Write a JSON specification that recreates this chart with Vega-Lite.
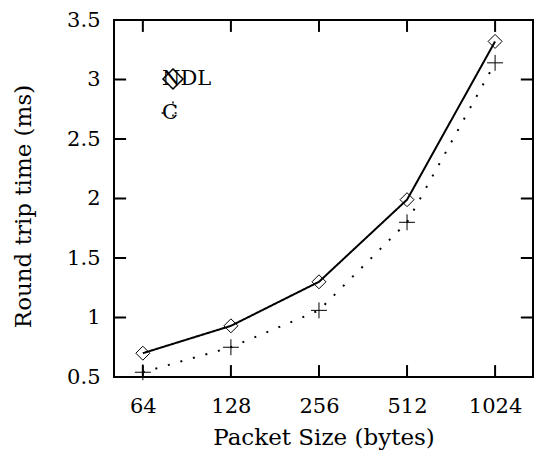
{
  "$schema": "https://vega.github.io/schema/vega-lite/v6.json",
  "autosize": {"type": "none"},
  "width": 419,
  "height": 357,
  "padding": {"left": 114, "top": 20, "right": 2, "bottom": 77},
  "background": "white",
  "config": {
    "view": {"stroke": "black", "strokeWidth": 2},
    "axis": {
      "domain": false, "grid": false, "ticks": false,
      "labelFont": "DejaVu Serif", "labelFontSize": 21, "labelColor": "black",
      "titleFont": "DejaVu Serif", "titleFontSize": 23, "titleFontWeight": "normal", "titleColor": "black"
    }
  },
  "data": {"values": [
    {"size": 64, "rtt": 0.70, "series": "NDL"},
    {"size": 128, "rtt": 0.93, "series": "NDL"},
    {"size": 256, "rtt": 1.30, "series": "NDL"},
    {"size": 512, "rtt": 1.99, "series": "NDL"},
    {"size": 1024, "rtt": 3.32, "series": "NDL"},
    {"size": 64, "rtt": 0.54, "series": "C"},
    {"size": 128, "rtt": 0.75, "series": "C"},
    {"size": 256, "rtt": 1.06, "series": "C"},
    {"size": 512, "rtt": 1.80, "series": "C"},
    {"size": 1024, "rtt": 3.14, "series": "C"}
  ]},
  "layer": [
    {
      "mark": {"type": "line", "color": "black", "strokeWidth": 2, "strokeCap": "butt"},
      "encoding": {
        "x": {"field": "size", "type": "quantitative",
              "scale": {"type": "log", "base": 2, "domain": [51, 1380], "nice": false},
              "axis": {"values": [64, 128, 256, 512, 1024], "format": "d",
                       "labelPadding": 18, "title": "Packet Size (bytes)",
                       "titleX": 209.5, "titleY": 60, "titleBaseline": "middle", "titleAnchor": null}},
        "y": {"field": "rtt", "type": "quantitative",
              "scale": {"domain": [0.5, 3.5], "nice": false, "zero": false},
              "axis": {"values": [0.5, 1, 1.5, 2, 2.5, 3, 3.5], "format": "~g",
                       "labelPadding": 14, "title": "Round trip time (ms)",
                       "titleX": -91, "titleY": 186, "titleBaseline": "middle", "titleAngle": -90}},
        "strokeDash": {"field": "series", "type": "nominal",
                       "scale": {"domain": ["NDL", "C"], "range": [[1, 0], [2, 11]]}},
        "detail": {"field": "series"}
      }
    },
    {
      "mark": {"type": "point", "filled": false, "color": "black", "strokeWidth": 1, "size": 196, "opacity": 1},
      "encoding": {
        "x": {"field": "size", "type": "quantitative"},
        "y": {"field": "rtt", "type": "quantitative"},
        "shape": {"field": "series", "type": "nominal",
                  "scale": {"domain": ["NDL", "C"], "range": ["diamond", "M-1.14,0L1.14,0M0,-1.14L0,1.14"]},
                  "legend": {
                    "title": null, "orient": "none", "legendX": 48, "legendY": 48, "padding": 0, "direction": "vertical",
                    "symbolSize": 400, "symbolStrokeWidth": 1.5, "symbolStrokeColor": "black",
                    "symbolFillColor": "transparent", "symbolOffset": 0, "rowPadding": 6,
                    "labelAlign": "left", "labelOffset": -22,
                    "labelFont": "DejaVu Serif", "labelFontSize": 21, "labelColor": "black",
                    "encode": {"symbols": {"update": {
                      "shape": {"signal": "datum.value === 'NDL' ? 'M5.95,0L8.5,0M9.9,0L12.45,0M9.2,-0.7L9.9,0L9.2,0.7L8.5,0Z' : 'M8.4,0L10,0M9.2,-0.8L9.2,0.8M5.95,0L6.15,0M6.8,0L7,0M11.3,0L11.5,0M12.15,0L12.35,0'"},
                      "fill": {"value": "transparent"},
                      "stroke": {"value": "black"},
                      "strokeWidth": {"value": 1.5},
                      "strokeDash": {"value": [1, 0]},
                      "opacity": {"value": 1}
                    }}}
                  }}
      }
    },
    {
      "data": {"values": [{"size": 64}, {"size": 128}, {"size": 256}, {"size": 512}, {"size": 1024}]},
      "mark": {"type": "rule", "color": "black", "strokeWidth": 2},
      "encoding": {
        "x": {"field": "size", "type": "quantitative"},
        "y": {"datum": 0.5},
        "y2": {"datum": 0.6}
      }
    },
    {
      "data": {"values": [{"size": 64}, {"size": 128}, {"size": 256}, {"size": 512}, {"size": 1024}]},
      "mark": {"type": "rule", "color": "black", "strokeWidth": 2},
      "encoding": {
        "x": {"field": "size", "type": "quantitative"},
        "y": {"datum": 3.5},
        "y2": {"datum": 3.4}
      }
    },
    {
      "data": {"values": [{"rtt": 1}, {"rtt": 1.5}, {"rtt": 2}, {"rtt": 2.5}, {"rtt": 3}]},
      "mark": {"type": "rule", "color": "black", "strokeWidth": 2},
      "encoding": {
        "y": {"field": "rtt", "type": "quantitative"},
        "x": {"datum": 51},
        "x2": {"datum": 56.1}
      }
    },
    {
      "data": {"values": [{"rtt": 1}, {"rtt": 1.5}, {"rtt": 2}, {"rtt": 2.5}, {"rtt": 3}]},
      "mark": {"type": "rule", "color": "black", "strokeWidth": 2},
      "encoding": {
        "y": {"field": "rtt", "type": "quantitative"},
        "x": {"datum": 1380},
        "x2": {"datum": 1254}
      }
    }
  ]
}
